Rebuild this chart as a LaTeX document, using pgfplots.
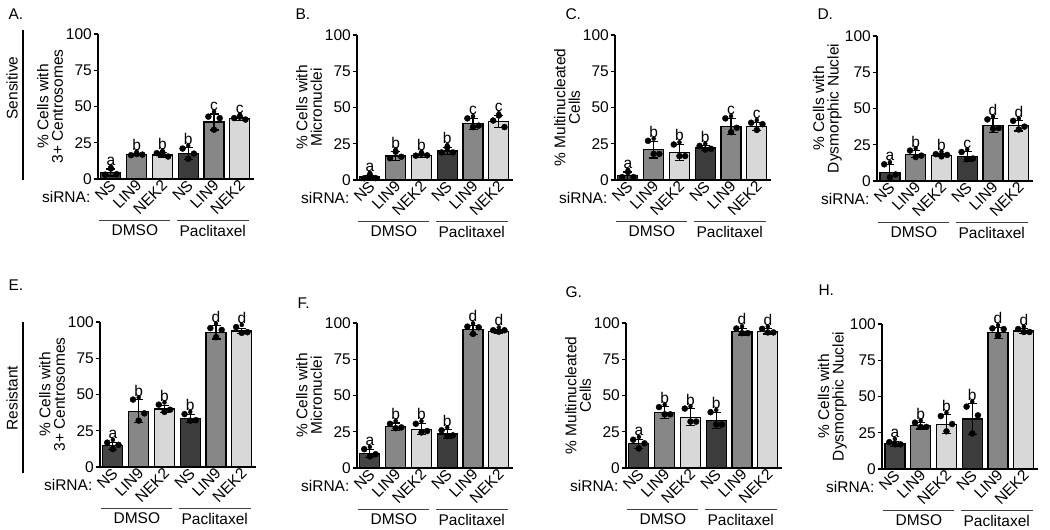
\documentclass[border=0pt]{standalone}
\usepackage{fontspec}
\setmainfont{Liberation Sans}
\usepackage{pgfplots}
\usepackage{pgfplotstable}
\pgfplotsset{compat=1.18}
\definecolor{c0}{HTML}{444444}
\definecolor{c1}{HTML}{878787}
\definecolor{c2}{HTML}{D8D8D8}
\definecolor{c3}{HTML}{3C3C3C}
\definecolor{c4}{HTML}{878787}
\definecolor{c5}{HTML}{D8D8D8}
\newcommand\fnt{\fontsize{15.5}{14.5}\selectfont}

\pgfplotstableread{
x m s a b c l
0 4.5 2.4 3.0 7.2 3.3 a
1 16.8 0.5 16.4 17.2 16.8 b
2 16.6 1.4 17.8 18.0 15.5 b
3 17.5 4.0 21.0 14.0 17.5 b
4 39.3 5.5 43.0 34.0 42.0 c
5 41.5 1.2 42.0 43.0 41.0 c
}\tabA
\pgfplotstableread{
x m s a b c l
0 2.0 1.3 1.2 3.5 1.3 a
1 16.5 3.0 15.0 19.5 16.0 b
2 16.8 1.0 16.8 18.0 17.0 b
3 20.0 2.5 19.0 22.5 19.0 b
4 38.7 3.8 42.5 36.5 37.5 c
5 40.2 4.3 41.0 44.5 36.5 c
}\tabB
\pgfplotstableread{
x m s a b c l
0 3.0 2.5 2.0 5.5 2.0 a
1 21.0 5.8 27.0 18.0 18.0 b
2 19.0 5.5 24.5 16.5 16.5 b
3 22.0 1.5 23.5 21.0 21.5 b
4 37.0 5.6 42.5 33.0 36.0 c
5 37.0 2.8 39.5 34.5 38.5 c
}\tabC
\pgfplotstableread{
x m s a b c l
0 6.0 5.5 11.5 2.5 4.5 a
1 18.4 2.5 21.0 16.5 17.5 b
2 17.7 1.0 18.5 17.0 18.0 b
3 16.8 3.5 20.0 15.0 15.5 c
4 38.2 4.7 42.5 36.0 36.5 d
5 38.0 3.5 41.5 35.5 37.5 d
}\tabD
\pgfplotstableread{
x m s a b c l
0 14.7 2.5 16.8 12.3 15.3 a
1 38.4 8.0 46.5 32.0 37.0 b
2 40.0 2.5 43.0 38.0 39.5 b
3 33.5 3.0 36.5 32.0 32.3 b
4 92.8 4.5 95.8 89.5 94.5 d
5 93.8 2.0 96.5 92.5 93.0 d
}\tabE
\pgfplotstableread{
x m s a b c l
0 10.2 2.7 13.0 8.0 9.5 a
1 28.5 2.5 30.5 27.5 28.0 b
2 26.8 4.0 30.5 24.5 25.5 b
3 23.5 3.0 26.0 22.0 22.5 b
4 95.3 3.0 97.5 92.5 97.0 d
5 94.3 1.2 95.0 94.0 95.0 d
}\tabF
\pgfplotstableread{
x m s a b c l
0 16.7 3.2 19.5 13.5 17.0 a
1 38.2 4.0 42.0 37.0 37.0 b
2 35.0 6.0 41.0 32.0 32.0 b
3 32.7 5.3 38.5 30.0 30.0 b
4 94.0 2.3 96.2 93.0 93.0 d
5 94.2 1.8 96.0 93.5 93.5 d
}\tabG
\pgfplotstableread{
x m s a b c l
0 17.5 1.7 18.5 17.0 17.0 a
1 29.8 2.2 32.0 29.0 29.0 b
2 30.8 6.5 36.5 26.0 31.0 b
3 34.5 10.5 43.0 24.5 37.0 b
4 94.0 3.7 97.0 92.0 96.5 d
5 95.2 1.5 96.5 94.5 94.5 d
}\tabH

\pgfplotsset{
 panel/.style={
  scale only axis, width=156pt, height=145pt,
  xmin=-0.5, xmax=5.55, ymin=0, ymax=100,
  axis lines=left,
  axis line style={-, line width=1.3pt, black},
  ytick={0,25,50,75,100},
  xtick={0,...,5},
  xticklabels={NS,LIN9,NEK2,NS,LIN9,NEK2},
  xtick style={draw=none},
  ytick style={line width=1.3pt, black},
  tick align=outside, major tick length=4.5pt,
  tick label style={font=\fnt},
  /pgf/number format/assume math mode=true,
  xticklabel style={rotate=45, anchor=east, inner sep=1pt, xshift=3pt, yshift=-1pt},
  yticklabel style={inner sep=1.5pt},
  ylabel style={align=center, font=\fnt, yshift=-2pt},
  clip=false,
 }
}

\newcommand\drawpanel[1]{%
 \pgfplotsinvokeforeach{0,...,5}{%
  \addplot[ybar, bar width=20pt, bar shift=0pt, fill=c##1, draw=black, line width=1.2pt, forget plot]
   table[x=x, y=m, restrict expr to domain={\coordindex}{##1:##1}] {#1};
 }
 \addplot[draw=none, forget plot, error bars/.cd, y dir=both, y explicit,
   error bar style={draw=black, line width=1.1pt},
   error mark options={rotate=90, draw=black, mark size=4.5pt, line width=1.1pt}]
   table[x=x, y=m, y error=s] {#1};
 \addplot[only marks, mark=*, mark size=3pt, black, forget plot] table[x expr=\thisrow{x}-0.22, y=a] {#1};
 \addplot[only marks, mark=*, mark size=3pt, black, forget plot] table[x=x, y=b] {#1};
 \addplot[only marks, mark=*, mark size=3pt, black, forget plot] table[x expr=\thisrow{x}+0.22, y=c] {#1};
 \addplot[only marks, mark=*, mark options={draw=none, fill=none}, nodes near coords,
   point meta=explicit symbolic,
   nodes near coords style={anchor=south, font=\fnt, inner sep=1pt, black}, forget plot]
   table[x=x, y expr={max(\thisrow{m}+\thisrow{s},\thisrow{a},\thisrow{b},\thisrow{c})+1.5}, meta=l] {#1};
 \draw[line width=1pt, black!75] (axis cs:-0.45,-28.3) -- (axis cs:2.3,-28.3);
 \draw[line width=1pt, black!75] (axis cs:2.55,-28.3) -- (axis cs:5.35,-28.3);
 \node[font=\fnt] at (axis cs:0.93,-35.5) {DMSO};
 \node[font=\fnt] at (axis cs:3.95,-35.5) {Paclitaxel};
 \node[font=\fnt, anchor=east] at (axis cs:-0.66,-12.4) {siRNA:};
}

\begin{document}
\begin{tikzpicture}[x=1pt,y=1pt]
\useasboundingbox (0,0) rectangle (1050,530);
% row labels
\node[font=\fnt, rotate=90] at (12,442) {Sensitive};
\draw[line width=1.3pt] (23,500) -- (23,350);
\node[font=\fnt, rotate=90] at (12,132) {Resistant};
\draw[line width=1.3pt] (23,208) -- (23,57);
% panel letters
\node[font=\fnt, anchor=west] at (5,516) {A.};
\node[font=\fnt, anchor=west] at (292,516) {B.};
\node[font=\fnt, anchor=west] at (562,516) {C.};
\node[font=\fnt, anchor=west] at (814,516) {D.};
\node[font=\fnt, anchor=west] at (5,245) {E.};
\node[font=\fnt, anchor=west] at (294,227) {F.};
\node[font=\fnt, anchor=west] at (562,238) {G.};
\node[font=\fnt, anchor=west] at (815,240) {H.};

\begin{axis}[panel, at={(98pt,351pt)}, anchor=south west, ylabel={\% Cells with\\3+ Centrosomes}]
\drawpanel{\tabA}
\end{axis}
\begin{axis}[panel, at={(357pt,350pt)}, anchor=south west, ylabel={\% Cells with\\Micronuclei}]
\drawpanel{\tabB}
\end{axis}
\begin{axis}[panel, at={(615pt,350pt)}, anchor=south west, ylabel={\% Multinucleated\\Cells}]
\drawpanel{\tabC}
\end{axis}
\begin{axis}[panel, at={(877pt,349pt)}, anchor=south west, ylabel={\% Cells with\\Dysmorphic Nuclei}]
\drawpanel{\tabD}
\end{axis}

\begin{axis}[panel, at={(100pt,63pt)}, anchor=south west, ylabel={\% Cells with\\3+ Centrosomes}]
\drawpanel{\tabE}
\end{axis}
\begin{axis}[panel, at={(357pt,62pt)}, anchor=south west, ylabel={\% Cells with\\Micronuclei}]
\drawpanel{\tabF}
\end{axis}
\begin{axis}[panel, at={(626pt,62pt)}, anchor=south west, ylabel={\% Multinucleated\\Cells}]
\drawpanel{\tabG}
\end{axis}
\begin{axis}[panel, at={(882pt,61pt)}, anchor=south west, ylabel={\% Cells with\\Dysmorphic Nuclei}]
\drawpanel{\tabH}
\end{axis}
\end{tikzpicture}
\end{document}
